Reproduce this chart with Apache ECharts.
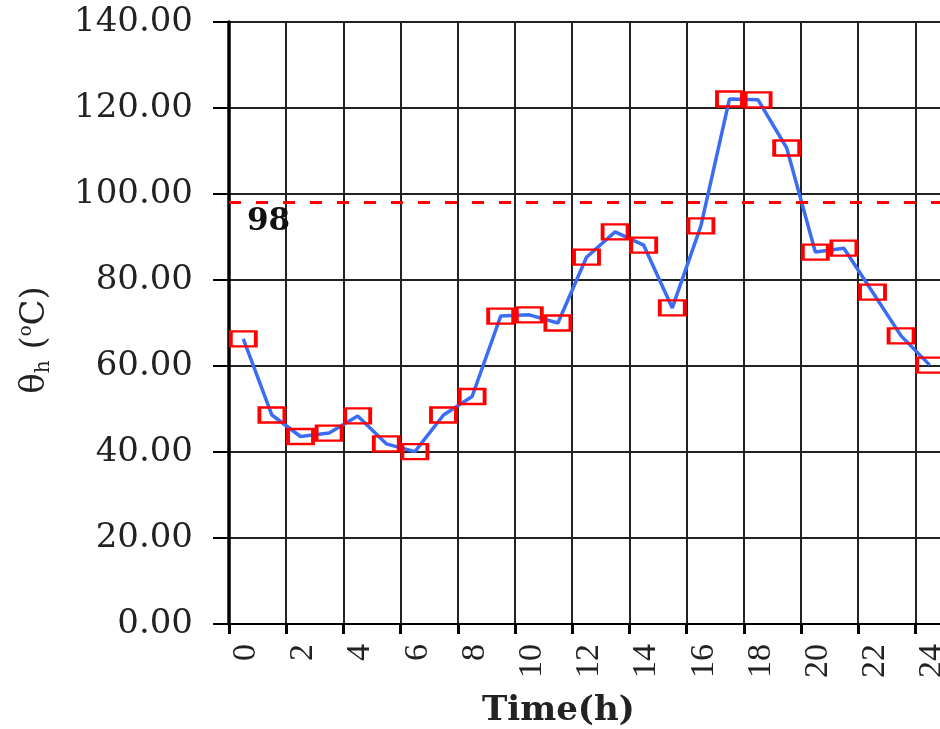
<!DOCTYPE html>
<html>
<head>
<meta charset="utf-8">
<script src="https://cdn.jsdelivr.net/npm/echarts@6/dist/echarts.min.js"></script>
<style>html,body{margin:0;padding:0;background:#fff;}#c{width:940px;height:729px;}</style>
</head>
<body>
<div id="c"></div>
<script>
var hours = [0.5, 1.5, 2.5, 3.5, 4.5, 5.5, 6.5, 7.5, 8.5, 9.5, 10.5, 11.5, 12.5, 13.5, 14.5, 15.5, 16.5, 17.5, 18.5, 19.5, 20.5, 21.5, 22.5, 23.5, 24.5];
var theta = [66.3, 48.6, 43.6, 44.4, 48.4, 41.9, 40.1, 48.6, 52.9, 71.6, 71.9, 70.0, 85.3, 91.2, 88.1, 73.5, 92.6, 122.1, 121.9, 110.7, 86.5, 87.4, 77.2, 67.0, 60.2];
var limitValue = 98;
var xTickMax = 24;

var chart = echarts.init(document.getElementById('c'), null, {renderer: 'canvas'});
var pts = hours.map(function (h, i) { return [h, theta[i]]; });

chart.setOption({
  animation: false,
  backgroundColor: '#ffffff',
  grid: {left: 229, top: 22, bottom: 105, right: -4, containLabel: false, outerBoundsMode: 'none'},
  xAxis: {
    type: 'value', min: 0, max: 25, interval: 2,
    axisLine: {show: true, lineStyle: {color: '#000', width: 2}},
    axisTick: {show: true, inside: false, length: 10, lineStyle: {color: '#000', width: 3}},
    splitLine: {show: true, lineStyle: {color: '#222', width: 2}},
    axisLabel: {
      show: true, rotate: 90, margin: 20, color: '#222',
      fontSize: 34, fontFamily: 'Liberation Serif', hideOverlap: false,
      verticalAlign: 'top',
      formatter: function (v) { return v <= xTickMax ? String(v) : ''; }
    }
  },
  yAxis: {
    type: 'value', min: 0, max: 140, interval: 20,
    axisLine: {show: true, lineStyle: {color: '#000', width: 3.5}},
    axisTick: {show: true, inside: false, length: 16, lineStyle: {color: '#000', width: 2}},
    splitLine: {show: true, lineStyle: {color: '#222', width: 2}},
    axisLabel: {
      margin: 36, color: '#222', fontSize: 34, fontFamily: 'DejaVu Serif',
      formatter: function (v) { return v.toFixed(2); }
    }
  },
  series: [{
    type: 'line',
    data: pts,
    silent: true,
    symbol: 'rect',
    symbolSize: [25, 15],
    showAllSymbol: true,
    lineStyle: {color: '#3a6cf4', width: 3.5},
    itemStyle: {color: 'rgba(0,0,0,0)', borderColor: '#ff0000', borderWidth: 3},
    z: 3,
    markLine: {
      silent: true,
      symbol: ['none', 'none'],
      data: [{yAxis: limitValue}],
      lineStyle: {color: '#ff0000', type: [12, 15], width: 3},
      label: {
        show: true, position: 'insideStartBottom', formatter: String(limitValue),
        color: '#111', fontSize: 31, fontWeight: 'bold', fontFamily: 'DejaVu Serif',
        distance: 4, padding: [0, 0, 0, 14]
      }
    }
  }],
  graphic: [
    {
      type: 'text', left: 482, top: 694,
      style: {text: 'Time(h)', font: 'bold 34px "DejaVu Serif"', fill: '#222'}
    },
    {
      type: 'text', x: 35, y: 340, rotation: Math.PI / 2,
      style: {
        text: '{a|θ}{s|h}{a| (}{p|o}{a|C)}',
        align: 'center', verticalAlign: 'middle',
        rich: {
          a: {font: '34px "DejaVu Serif"', fill: '#222'},
          s: {font: '20px "DejaVu Serif"', fill: '#222', padding: [18, 0, 0, 0]},
          p: {font: '18px "DejaVu Serif"', fill: '#222', padding: [0, 0, 18, 0]}
        }
      }
    }
  ]
});
</script>
</body>
</html>
